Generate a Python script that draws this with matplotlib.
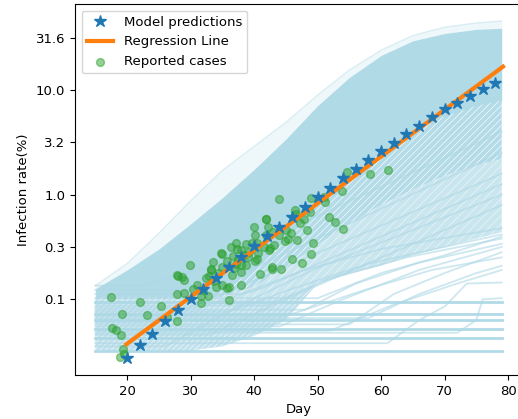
import matplotlib
matplotlib.use('Agg')
import matplotlib.pyplot as plt
import numpy as np

plt.rcParams['font.family'] = 'DejaVu Sans'
plt.rcParams['font.size'] = 9.5
plt.rcParams['hatch.linewidth'] = 0.5

# all y values are log10 of the infection rate (%)
pred_days = np.arange(20, 80, 2)
pred_log = [-1.56, -1.44, -1.33, -1.21, -1.10, -1.00, -0.90, -0.80, -0.695, -0.593,
            -0.49, -0.40, -0.31, -0.21, -0.115, -0.022, 0.066, 0.156, 0.247, 0.335,
            0.415, 0.496, 0.579, 0.656, 0.739, 0.815, 0.876, 0.943, 1.007, 1.064]

reg_days = [19.9, 79.2]
reg_log = [-1.43, 1.223]

case_days = [17.5, 17.6, 18.3, 19.1, 19.2, 19.4, 18.9, 19.5, 22.1, 23.1,
             25.4, 26.3, 27.8, 27.8, 29.0, 27.8, 29.0, 29.9, 31.6, 31.6,
             28.7, 28.0, 31.9, 32.4, 33.2, 32.8, 33.7, 34.8, 35.0, 36.3,
             35.8, 36.0, 36.8, 37.4, 37.9, 37.9, 38.7, 39.2, 40.0, 40.2,
             40.5, 40.5, 41.9, 42.2, 39.6, 38.7, 37.1, 37.3, 38.0, 35.8,
             36.7, 37.1, 37.9, 40.2, 41.0, 42.9, 42.5, 43.1, 41.8, 33.2,
             32.9, 36.1, 34.0, 43.9, 61.1, 58.2, 54.7, 53.8, 51.2, 48.9,
             46.4, 46.6, 48.8, 47.8, 47.2, 48.3, 51.8, 52.7, 54.0, 41.8,
             43.0, 44.0, 45.0, 45.8, 45.3, 46.8, 49.3, 48.9, 46.0, 47.6,
             42.9, 44.3, 41.6, 42.3, 40.6, 34.9, 35.0, 51.0, 30.4, 31.0,
             34.3, 38.4, 39.0, 44.8, 36.5, 33.6]
case_log = [-0.98, -1.27, -1.29, -1.34, -1.14, -1.48, -1.55, -1.52, -1.03, -1.15,
            -1.06, -1.17, -1.21, -0.95, -0.94, -0.77, -0.82, -0.67, -0.97, -1.04,
            -0.79, -0.78, -0.91, -0.80, -0.72, -0.97, -0.83, -0.56, -0.69, -0.50,
            -0.89, -1.01, -0.70, -0.62, -0.74, -0.86, -0.67, -0.55, -0.31, -0.39,
            -0.46, -0.62, -0.235, -0.31, -0.46, -0.47, -0.46, -0.52, -0.53, -0.63,
            -0.59, -0.66, -0.67, -0.63, -0.76, -0.71, -0.51, -0.48, -0.39, -0.71,
            -0.78, -0.88, -0.88, -0.04, 0.236, 0.195, 0.22, 0.03, -0.067, -0.03,
            -0.15, -0.19, -0.17, -0.235, -0.27, -0.34, -0.21, -0.26, -0.33, -0.235,
            -0.36, -0.39, -0.34, -0.37, -0.42, -0.43, -0.46, -0.57, -0.62, -0.65,
            -0.69, -0.71, -0.50, -0.53, -0.56, -0.57, -0.86, -0.02, -0.90, -0.86,
            -0.75, -0.58, -0.60, -0.44, -0.77, -0.64]

# envelopes of the simulated trajectories
env_days = [15, 20, 25, 30, 35, 40, 45, 50, 55, 60, 65, 70, 75, 79]
outer_high = [-0.87, -0.66, -0.37, -0.06, 0.23, 0.46, 0.69, 0.95, 1.19, 1.38, 1.52, 1.60, 1.64, 1.66]
core_high = [-0.90, -0.72, -0.52, -0.28, -0.03, 0.24, 0.53, 0.85, 1.12, 1.33, 1.47, 1.54, 1.58, 1.59]
core_low = [-0.98, -0.98, -0.98, -0.98, -0.92, -0.72, -0.42, -0.12, 0.15, 0.40, 0.60, 0.75, 0.85, 0.90]
mid_split = [-1.00, -1.00, -1.00, -1.00, -0.98, -0.88, -0.70, -0.48, -0.28, -0.10, 0.05, 0.18, 0.28, 0.34]
mid_low = [-1.00, -1.00, -1.00, -1.00, -1.00, -1.00, -0.95, -0.85, -0.76, -0.68, -0.58, -0.50, -0.42, -0.36]

hatch_days = [15, 20, 25, 30, 35, 40, 45, 50]
hatch_low = [-1.49, -1.49, -1.49, -1.49, -1.45, -1.35, -1.20, -0.85]
hatch_high = [-1.00, -1.00, -1.00, -1.00, -1.00, -1.00, -0.95, -0.85]

flat_levels = [-1.49, -1.37, -1.28, -1.20, -1.14, -1.03]
flat_days = [15, 79]

rising_days = [
    [15, 61, 66, 70, 73.5, 79],
    [15, 72, 75, 76, 79],
    [15, 55, 62, 70, 79],
    [15, 48, 56, 66, 79],
    [15, 50, 60, 70, 79],
    [15, 42, 52, 64, 79],
    [15, 45, 58, 68, 79],
    [15, 38, 48, 60, 79],
    [15, 52, 62, 72, 79],
    [15, 58, 66, 75, 79],
    [15, 44, 54, 66, 79],
    [15, 36, 46, 58, 79],
    [15, 26, 38, 50, 79],
    [15, 33, 45, 79],
    [15, 24, 35, 79],
    [15, 29, 40, 79],
    [15, 22, 32, 79],
    [15, 31, 41, 79],
]
rising_log = [
    [-1.42, -1.42, -1.20, -1.07, -0.85, -0.84],
    [-1.32, -1.32, -1.20, -1.00, -0.99],
    [-1.24, -1.24, -0.95, -0.75, -0.55],
    [-1.10, -1.10, -0.85, -0.65, -0.47],
    [-0.99, -0.99, -0.75, -0.58, -0.40],
    [-1.06, -1.06, -0.80, -0.60, -0.42],
    [-1.16, -1.16, -0.90, -0.72, -0.60],
    [-0.95, -0.95, -0.72, -0.52, -0.32],
    [-1.30, -1.30, -1.05, -0.85, -0.72],
    [-1.18, -1.18, -0.95, -0.75, -0.68],
    [-1.26, -1.26, -1.00, -0.72, -0.50],
    [-1.12, -1.12, -0.90, -0.66, -0.38],
    [-1.45, -1.45, -1.05, -0.70, 0.00],
    [-1.34, -1.34, -1.00, -0.10],
    [-1.22, -1.22, -0.95, 0.20],
    [-0.91, -0.91, -0.70, 0.40],
    [-0.87, -0.87, -0.70, 0.60],
    [-1.08, -1.08, -0.90, 0.10],
]

y_ticks = [-1, -0.5, 0, 0.5, 1, 1.5]

fig = plt.figure(figsize=(5.18, 4.19), dpi=100)
ax = fig.add_axes([0.1448, 0.105, 0.863, 0.8855])

traj_color = 'lightblue'

# trajectory bundle
ax.fill_between(env_days, core_high, outer_high, color=traj_color, alpha=0.2, lw=0)
ax.fill_between(env_days, core_low, core_high, color=traj_color, alpha=0.95, lw=0)
ax.fill_between(env_days, mid_split, core_low, facecolor=traj_color, edgecolor='white',
                hatch='/////', alpha=0.92, lw=0)
ax.fill_between(env_days, mid_low, mid_split, facecolor=traj_color, edgecolor='white',
                hatch='////', alpha=0.65, lw=0)
ax.fill_between(hatch_days, hatch_low, hatch_high, facecolor=traj_color, edgecolor='white',
                hatch='//////', alpha=0.75, lw=0)
ax.plot(env_days, outer_high, color=traj_color, alpha=0.45, lw=1)

for lvl in flat_levels:
    ax.plot(flat_days, [lvl, lvl], color=traj_color, lw=2, alpha=0.95)
for d, v in zip(rising_days, rising_log):
    ax.plot(d, v, color=traj_color, lw=1.3, alpha=0.6)

ax.plot(pred_days, pred_log, '*', color='C0', ms=9, label='Model predictions', zorder=5)
ax.plot(reg_days, reg_log, '-', color='C1', lw=3, label='Regression Line', zorder=4)
ax.scatter(case_days, case_log, s=32, color='C2', alpha=0.5, label='Reported cases', zorder=3)

ax.set_xlim(11.8, 82.2)
ax.set_ylim(-1.724, 1.822)
ax.set_xticks([20, 30, 40, 50, 60, 70, 80])
ax.set_yticks(y_ticks)
ax.set_yticklabels(['%.1f' % (10 ** t) for t in y_ticks])
ax.set_xlabel('Day')
ax.set_ylabel('Infection rate(%)')

ax.legend(loc='upper left')

fig.savefig('out.png', dpi=100)
